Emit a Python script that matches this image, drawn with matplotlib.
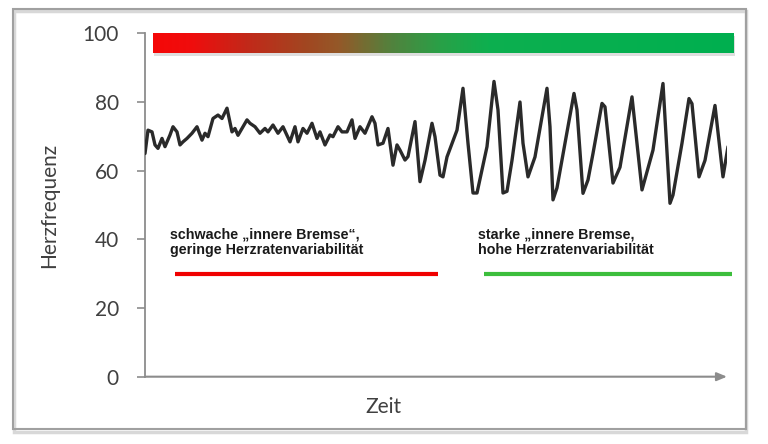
import numpy as np
import matplotlib
matplotlib.use("Agg")
import matplotlib.pyplot as plt
from matplotlib.colors import LinearSegmentedColormap
from matplotlib.patches import Rectangle

# time (arbitrary units) and heart rate
zeit = [0, 3, 7, 10, 13, 17, 20, 25, 28, 32, 35, 38, 42, 47, 52, 57, 60, 63, 68,
        73, 77, 82, 87, 90, 93, 102, 105, 110, 115, 120, 123, 128, 133, 138, 145,
        150, 153, 158, 162, 167, 172, 175, 180, 185, 188, 193, 197, 202, 207, 210,
        215, 220, 227, 230, 233, 238, 243, 248, 252, 255, 260, 263, 270, 275, 280,
        287, 290, 295, 298, 302, 312, 318, 323, 328, 332, 342, 349, 353, 358, 362,
        367, 375, 378, 383, 390, 402, 405, 408, 412, 420, 429, 432, 438, 443, 448,
        457, 460, 468, 475, 487, 497, 508, 518, 525, 528, 537, 544, 547, 554, 560,
        570, 578, 583]
herzfrequenz = [65, 71.8, 71.3, 67.5, 66.5, 69.4, 67, 70.4, 72.8, 71.3, 67.5, 68.4,
                69.4, 70.9, 72.8, 68.9, 70.9, 69.9, 75.2, 76.2, 75.2, 78.2, 71.3,
                72.3, 70.3, 74.8, 73.8, 72.8, 70.9, 72.3, 71.3, 73.3, 70.9, 72.8,
                68.4, 72.8, 68.4, 72.3, 70.9, 73.8, 69.4, 71.3, 67.5, 70.4, 69.9,
                72.8, 71.3, 71.3, 74.8, 69.4, 72.8, 70.9, 75.7, 73.8, 67.5, 68, 72.3,
                61.6, 67.5, 66, 63.1, 64.1, 74.3, 56.8, 63, 73.8, 69.9, 58.7, 58.2,
                64, 71.8, 84, 68, 53.5, 53.5, 67, 86, 77.7, 53.5, 54, 63, 80, 68,
                58.2, 64, 84, 72.8, 51.5, 55, 68, 82.5, 77.7, 53.4, 57.3, 65, 79.6,
                78.6, 56.4, 61, 81.5, 54.4, 66, 85.4, 50.5, 52.9, 68, 81, 79.5, 58.2,
                63, 79, 58.2, 67]

yticks = [0, 20, 40, 60, 80, 100]
text_schwach = "schwache \u201einnere Bremse\u201c,\ngeringe Herzratenvariabilit\u00e4t"
text_stark = "starke \u201einnere Bremse,\nhohe Herzratenvariabilit\u00e4t"

fig = plt.figure(figsize=(7.68, 4.44), dpi=100)
fig.patch.set_facecolor("white")

# outer frame with a little shadow
fig.patches.append(Rectangle((0.0185, 0.028), 0.9535, 0.947, transform=fig.transFigure,
                             fill=False, edgecolor="#d8d8d8", linewidth=2.5))
fig.patches.append(Rectangle((0.0165, 0.0327), 0.9555, 0.9463, transform=fig.transFigure,
                             fill=False, edgecolor="#a0a0a0", linewidth=1.5))

ax = fig.add_axes([0.1888, 0.1516, 0.7578, 0.7733])
ax.set_xlim(0, 582)
ax.set_ylim(0, 100)

for s in ["top", "right", "bottom"]:
    ax.spines[s].set_visible(False)
ax.spines["left"].set_color("#8c8c8c")
ax.spines["left"].set_linewidth(1.3)

ax.set_xticks([])
ax.set_yticks(yticks)
ax.tick_params(axis="y", direction="out", length=5.8, width=1.2, color="#8c8c8c",
               pad=13, labelsize=15, labelcolor="#404040")
for lab in ax.get_yticklabels():
    lab.set_family("Lato")

# x axis arrow
ax.annotate("", xy=(582, 0), xytext=(0, 0), xycoords="data",
            arrowprops=dict(arrowstyle="-|>,head_length=0.6,head_width=0.25",
                            color="#8c8c8c", lw=1.5, shrinkA=0, shrinkB=0),
            annotation_clip=False)

# gradient bar
cmap = LinearSegmentedColormap.from_list("bar", [
    (0.0, (0.96, 0.03, 0.03)),
    (0.064, (0.94, 0.05, 0.05)),
    (0.16, (0.76, 0.16, 0.10)),
    (0.265, (0.63, 0.28, 0.13)),
    (0.32, (0.58, 0.35, 0.16)),
    (0.41, (0.32, 0.51, 0.24)),
    (0.495, (0.16, 0.63, 0.28)),
    (0.58, (0.05, 0.69, 0.31)),
    (1.0, (0.0, 0.69, 0.31)),
])
grad = np.linspace(0, 1, 400).reshape(1, -1)
ax.add_patch(Rectangle((9.5, 93.3), 580.5, 5.8, facecolor="#c8c8c8", edgecolor="none",
                       alpha=0.6, clip_on=False, zorder=1))
ax.imshow(grad, cmap=cmap, aspect="auto", extent=(7.7, 588, 94.2, 99.8),
          clip_on=False, zorder=2, interpolation="bilinear")

# heart rate line
ax.plot(zeit, herzfrequenz, color="#2a2a2a", lw=2.4, solid_joinstyle="round",
        solid_capstyle="round", zorder=3)

# annotations
ax.text(25, 43.4, text_schwach, fontsize=10.3, fontweight="bold", family="Liberation Sans",
        va="top", ha="left", linespacing=1.12, color="#1a1a1a")
ax.text(333, 43.4, text_stark, fontsize=10.3, fontweight="bold", family="Liberation Sans",
        va="top", ha="left", linespacing=1.12, color="#1a1a1a")
ax.plot([30, 293], [29.9, 29.9], color="#f00000", lw=3, solid_capstyle="butt",
        clip_on=False)
ax.plot([339, 587], [29.9, 29.9], color="#3cbe3c", lw=3, solid_capstyle="butt",
        clip_on=False)

ax.set_ylabel("Herzfrequenz", fontsize=15, family="Lato", color="#404040", labelpad=17)
ax.set_xlabel("Zeit", fontsize=15, family="Lato", color="#404040")
ax.xaxis.set_label_coords(0.409, -0.06)

fig.savefig("out.png", dpi=100)
